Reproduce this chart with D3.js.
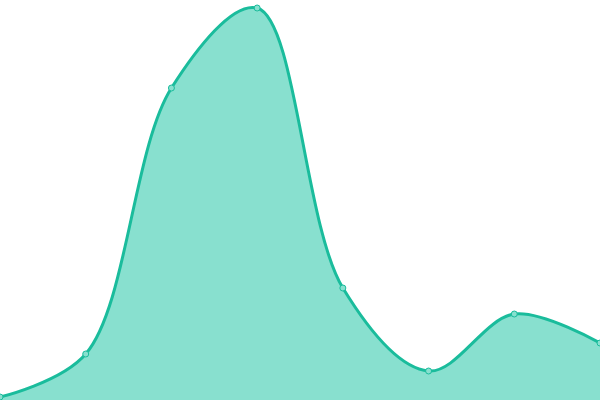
<!DOCTYPE html>
<html>
<head>
<meta charset="utf-8">
<script src="https://cdn.jsdelivr.net/npm/d3@7"></script>
<style>
  body { margin: 0; background: #fff; }
</style>
</head>
<body>
<div id="chart"></div>
<script>
var categories = ['A', 'B', 'C', 'D', 'E', 'F', 'G', 'H'];
var values = [3, 46, 312, 392, 112, 29, 86, 57];

var width = 600, height = 400;

var svg = d3.select('#chart')
  .append('svg')
  .attr('width', width)
  .attr('height', height);

var xScale = d3.scalePoint()
  .domain(categories)
  .range([0, width]);

var yScale = d3.scaleLinear()
  .domain([0, 400])
  .range([height, 0]);

var curve = d3.curveCatmullRom.alpha(0.5);

var area = d3.area()
  .x(function (d, i) { return xScale(categories[i]); })
  .y0(height)
  .y1(function (d) { return yScale(d); })
  .curve(curve);

var line = d3.line()
  .x(function (d, i) { return xScale(categories[i]); })
  .y(function (d) { return yScale(d); })
  .curve(curve);

svg.append('path')
  .datum(values)
  .attr('d', area)
  .style('fill', '#88e0cf');

svg.append('path')
  .datum(values)
  .attr('d', line)
  .style('fill', 'none')
  .style('stroke', '#1abc9c')
  .style('stroke-width', 3);

svg.selectAll('.dot')
  .data(values)
  .enter()
  .append('circle')
  .attr('class', 'dot')
  .attr('cx', function (d, i) { return xScale(categories[i]); })
  .attr('cy', function (d) { return yScale(d); })
  .attr('r', 3)
  .style('fill', '#88e0cf')
  .style('stroke', '#1abc9c')
  .style('stroke-width', 1);
</script>
</body>
</html>
